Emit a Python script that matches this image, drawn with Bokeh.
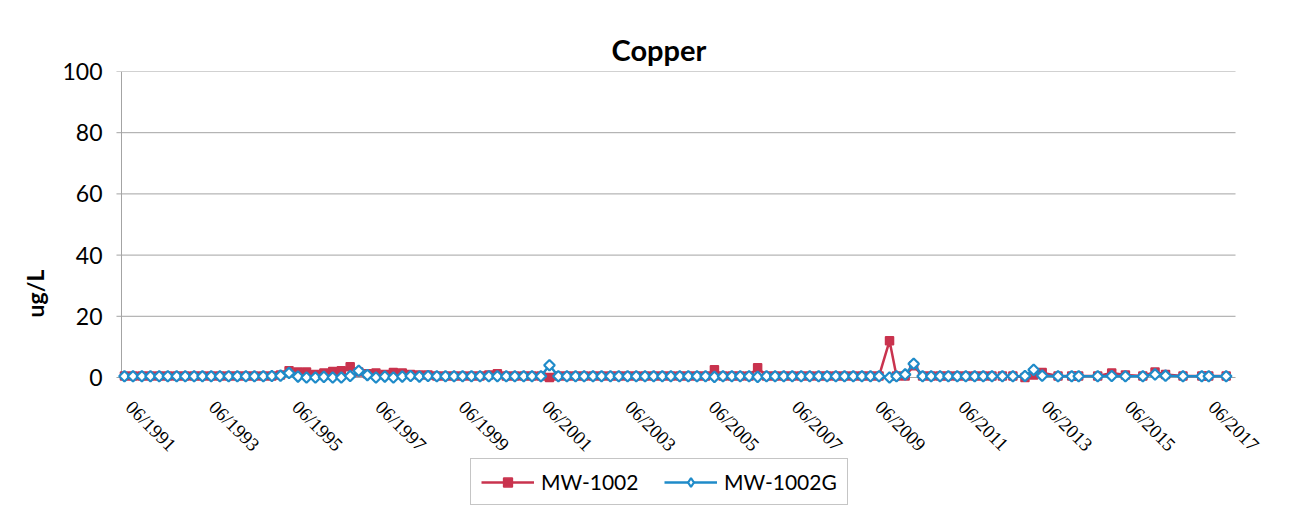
from math import pi
import pandas as pd
from bokeh.plotting import figure
from bokeh.models import (Range1d, FixedTicker, Legend, LegendItem,
                          ColumnDataSource, LabelSet)
from bokeh.embed import file_html
from bokeh.resources import INLINE

# ---------------- data ----------------
sample_dates = [
    "1991-06-01", "1991-08-15", "1991-11-01",
    "1992-01-15", "1992-04-01", "1992-06-15", "1992-09-01", "1992-11-15",
    "1993-02-01", "1993-04-15", "1993-07-01", "1993-09-15", "1993-12-01",
    "1994-02-15", "1994-05-01", "1994-07-15", "1994-10-01", "1994-12-15",
    "1995-03-01", "1995-05-15", "1995-08-01", "1995-10-15",
    "1996-01-01", "1996-03-15", "1996-06-01", "1996-08-15", "1996-11-01",
    "1997-01-15", "1997-04-01", "1997-06-15", "1997-09-01", "1997-11-15",
    "1998-02-01", "1998-04-15", "1998-07-01", "1998-09-15", "1998-12-01",
    "1999-02-15", "1999-05-01", "1999-07-15", "1999-10-01", "1999-12-15",
    "2000-03-01", "2000-05-15", "2000-08-01", "2000-10-15",
    "2001-01-01", "2001-03-15", "2001-06-01", "2001-08-15", "2001-11-01",
    "2002-01-15", "2002-04-01", "2002-06-15", "2002-09-01", "2002-11-15",
    "2003-02-01", "2003-04-15", "2003-07-01", "2003-09-15", "2003-12-01",
    "2004-02-15", "2004-05-01", "2004-07-15", "2004-10-01", "2004-12-15",
    "2005-03-01", "2005-05-15", "2005-08-01", "2005-10-15",
    "2006-01-01", "2006-03-15", "2006-06-01", "2006-08-15", "2006-11-01",
    "2007-01-15", "2007-04-01", "2007-06-15", "2007-09-01", "2007-11-15",
    "2008-02-01", "2008-04-15", "2008-07-01", "2008-09-15", "2008-12-01",
    "2009-02-15", "2009-05-01", "2009-07-15", "2009-10-15", "2009-12-15",
    "2010-03-01", "2010-05-15", "2010-08-01", "2010-10-15",
    "2011-01-01", "2011-03-15", "2011-06-01", "2011-08-15", "2011-11-01",
    "2012-01-15", "2012-04-01", "2012-07-01", "2012-10-01",
    "2013-01-15", "2013-04-01", "2013-06-15", "2013-11-01",
    "2014-03-01", "2014-05-01", "2014-10-15",
    "2015-02-15", "2015-06-15", "2015-11-15",
    "2016-03-01", "2016-06-01", "2016-11-01",
    "2017-04-15", "2017-06-15", "2017-11-15",
]

mw1002 = [
    0.5, 0.5, 0.5,
    0.5, 0.5, 0.5, 0.5, 0.5,
    0.5, 0.5, 0.5, 0.5, 0.5,
    0.5, 0.5, 0.5, 0.5, 0.5,
    0.8, 2.2, 1.8, 1.8,
    1.0, 1.5, 2.0, 2.2, 3.5,
    1.8, 1.2, 1.5, 1.0, 1.6,
    1.5, 1.0, 0.8, 0.8, 0.5,
    0.5, 0.5, 0.5, 0.5, 0.5,
    0.8, 1.2, 0.5, 0.5,
    0.5, 0.5, 0.5, 0.0, 0.5,
    0.5, 0.5, 0.5, 0.5, 0.5,
    0.5, 0.5, 0.5, 0.5, 0.5,
    0.5, 0.5, 0.5, 0.5, 0.5,
    0.5, 0.5, 2.5, 0.5,
    0.5, 0.5, 0.5, 3.2, 0.5,
    0.5, 0.5, 0.5, 0.5, 0.5,
    0.5, 0.5, 0.5, 0.5, 0.5,
    0.5, 0.5, 0.5, 12.0, 0.5,
    0.5, 3.8, 0.5, 0.5,
    0.5, 0.5, 0.5, 0.5, 0.5,
    0.5, 0.5, 0.5, 0.5,
    0.0, 0.8, 1.6, 0.5,
    0.5, 0.5, 0.5,
    1.5, 0.8, 0.5,
    1.8, 1.0, 0.5,
    0.5, 0.5, 0.5,
]

mw1002g = [
    0.4, 0.4, 0.4,
    0.4, 0.4, 0.4, 0.4, 0.4,
    0.4, 0.4, 0.4, 0.4, 0.4,
    0.4, 0.4, 0.4, 0.4, 0.5,
    0.6, 1.5, 0.3, 0.0,
    0.0, 0.2, 0.0, 0.0, 0.5,
    2.2, 0.8, 0.0, 0.3, 0.0,
    0.3, 0.5, 0.3, 0.5, 0.4,
    0.4, 0.4, 0.4, 0.4, 0.4,
    0.4, 0.4, 0.4, 0.4,
    0.4, 0.4, 0.4, 4.0, 0.4,
    0.4, 0.4, 0.4, 0.4, 0.4,
    0.4, 0.4, 0.4, 0.4, 0.4,
    0.4, 0.4, 0.4, 0.4, 0.4,
    0.4, 0.4, 0.2, 0.4,
    0.4, 0.4, 0.4, 0.2, 0.4,
    0.4, 0.4, 0.4, 0.4, 0.4,
    0.4, 0.4, 0.4, 0.4, 0.4,
    0.4, 0.4, 0.4, 0.0, 0.4,
    1.0, 4.5, 0.4, 0.4,
    0.4, 0.4, 0.4, 0.4, 0.4,
    0.4, 0.4, 0.4, 0.4,
    0.5, 2.5, 0.6, 0.4,
    0.4, 0.4, 0.4,
    0.5, 0.4, 0.4,
    1.0, 0.6, 0.4,
    0.4, 0.4, 0.4,
]

x_tick_dates = ["1991-06-01", "1993-06-01", "1995-06-01", "1997-06-01",
                "1999-06-01", "2001-06-01", "2003-06-01", "2005-06-01",
                "2007-06-01", "2009-06-01", "2011-06-01", "2013-06-01",
                "2015-06-01", "2017-06-01"]
x_tick_labels = ["06/1991", "06/1993", "06/1995", "06/1997", "06/1999",
                 "06/2001", "06/2003", "06/2005", "06/2007", "06/2009",
                 "06/2011", "06/2013", "06/2015", "06/2017"]
y_ticks = [0, 20, 40, 60, 80, 100]
series_names = ["MW-1002", "MW-1002G"]

# ---------------- layout / styling ----------------
RED = "#C9334E"
BLUE = "#1F8BC9"
GRID = "#a3a3a3"
FONT = "Lato"

AXIS_START = pd.Timestamp("1991-05-06")     # where the value axis sits
AXIS_END = pd.Timestamp("2018-02-05")       # right end of the plot area
PAD_LEFT = pd.Timedelta(days=114)           # room for the first date label
PAD_RIGHT = pd.Timedelta(days=412)          # room for the last date label
TICK_LEN = pd.Timedelta(days=44)            # ~5 px value-axis tick marks

src = ColumnDataSource(dict(x=pd.to_datetime(sample_dates), red=mw1002, blue=mw1002g))
tick_src = ColumnDataSource(dict(x=pd.to_datetime(x_tick_dates),
                                 y=[0] * len(x_tick_dates),
                                 text=x_tick_labels))

p = figure(x_axis_type="datetime", frame_width=1174, frame_height=444,
           output_backend="svg", toolbar_location=None,
           x_range=Range1d(AXIS_START - PAD_LEFT, AXIS_END + PAD_RIGHT),
           y_range=Range1d(-45.1, 100),
           min_border_left=108, min_border_right=8, min_border_top=71,
           min_border_bottom=2)

p.title.text = "Copper"
p.title.text_font = FONT
p.title.text_font_size = "29px"
p.title.text_font_style = "bold"
p.title.text_color = "black"
p.title.align = "left"
p.title.offset = 503
p.outline_line_color = None

# value axis: labels from the Bokeh axis, line/ticks/grid drawn in data space
p.yaxis.ticker = FixedTicker(ticks=y_ticks)
p.yaxis.axis_line_color = None
p.yaxis.major_tick_line_color = None
p.yaxis.major_tick_out = 0
p.yaxis.major_tick_in = 0
p.yaxis.minor_tick_line_color = None
p.yaxis.major_label_text_font = FONT
p.yaxis.major_label_text_font_size = "23px"
p.yaxis.major_label_text_color = "black"
p.yaxis.major_label_standoff = 6
p.yaxis.axis_label = "ug/L"
p.yaxis.axis_label_text_font = FONT
p.yaxis.axis_label_text_font_size = "23px"
p.yaxis.axis_label_text_font_style = "bold"
p.yaxis.axis_label_text_color = "black"
p.yaxis.axis_label_standoff = 10
p.xaxis.visible = False
p.xgrid.grid_line_color = None
p.ygrid.grid_line_color = None

n = len(y_ticks)
p.segment(x0=[AXIS_START] * n, x1=[AXIS_END] * n, y0=y_ticks, y1=y_ticks,
          line_color=GRID, line_width=1)
p.segment(x0=[AXIS_START - TICK_LEN] * n, x1=[AXIS_START] * n, y0=y_ticks, y1=y_ticks,
          line_color=GRID, line_width=1)
p.segment(x0=[AXIS_START], x1=[AXIS_START], y0=[y_ticks[0]], y1=[y_ticks[-1]],
          line_color=GRID, line_width=1)

labels = LabelSet(x="x", y="y", text="text", source=tick_src,
                  angle=-pi / 4, y_offset=-19, x_offset=12,
                  text_align="left", text_baseline="top",
                  text_font=FONT, text_font_size="19px", text_color="black")
p.add_layout(labels)

# series
r1 = p.line("x", "red", source=src, line_color=RED, line_width=2.5)
r1m = p.scatter("x", "red", source=src, marker="square", size=8,
                fill_color=RED, line_color=RED, line_width=1.5)
r2 = p.line("x", "blue", source=src, line_color=BLUE, line_width=2.5)
r2m = p.scatter("x", "blue", source=src, marker="square", angle=pi / 4, size=7.5,
                fill_color="white", line_color=BLUE, line_width=2.2)
# legend swatch for the diamond marker: a single point placed outside the view
r2key = p.scatter(x=[AXIS_START - PAD_LEFT - TICK_LEN], y=[-1000], marker="diamond",
                  size=14, fill_color="white", line_color=BLUE, line_width=2.2)

legend = Legend(items=[LegendItem(label=series_names[0], renderers=[r1, r1m]),
                       LegendItem(label=series_names[1], renderers=[r2, r2key])],
                orientation="horizontal", location=(362, 10))
legend.label_text_font = FONT
legend.label_text_font_size = "21px"
legend.label_text_color = "black"
legend.border_line_color = "#8c8c8c"
legend.border_line_width = 1
legend.padding = 10
legend.spacing = 13
legend.label_width = 110
legend.glyph_width = 53
legend.glyph_height = 22
legend.label_standoff = 7
legend.margin = 0
p.add_layout(legend)

open("out.html", "w").write(file_html(p, INLINE))
